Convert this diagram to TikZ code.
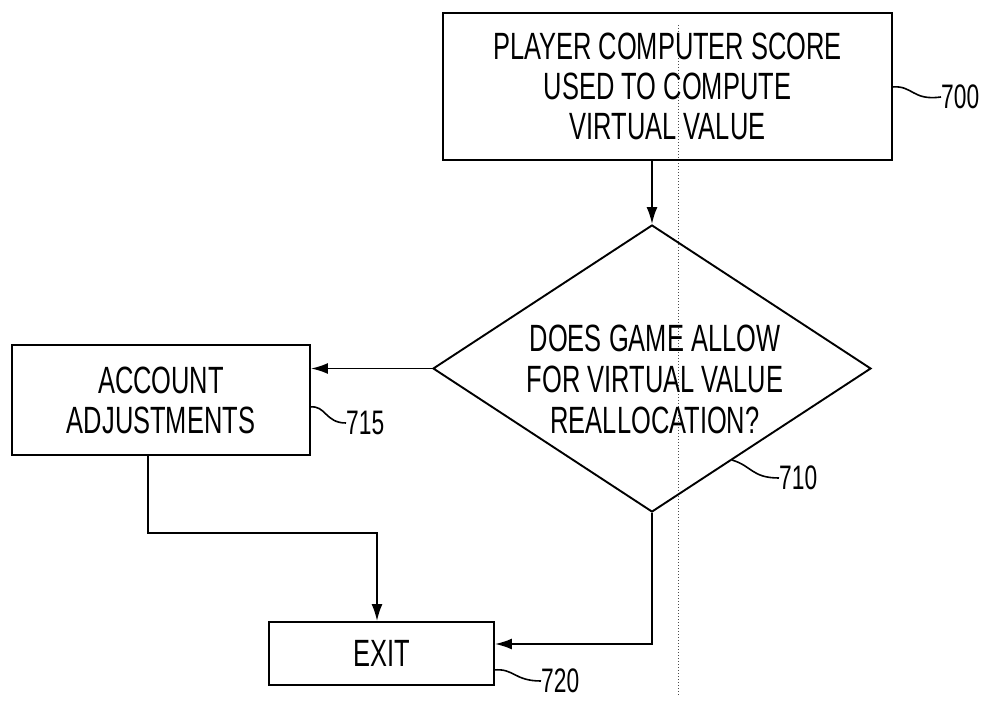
\documentclass[tikz,border=0pt]{standalone}
\usepackage{fontspec}
\setmainfont{Liberation Sans}[FakeStretch=0.67]
\usetikzlibrary{arrows.meta,shapes.geometric}
\tikzset{
  box/.style={draw, line width=1.9pt, rectangle, inner sep=0pt, align=center,
    font=\fontsize{38}{40}\selectfont},
  decision/.style={draw, line width=1.9pt, diamond, inner sep=0pt, aspect=1.526},
  txt/.style={inner sep=0pt, align=center, font=\fontsize{38}{41}\selectfont},
  ref/.style={inner sep=0pt, font=\fontsize{34}{34}\selectfont},
  flow/.style={line width=1.9pt, -{Latex[length=17pt,width=11pt]}},
  lead/.style={line width=1.6pt},
  scan/.style={line width=1pt, dotted, black!70}
}
\begin{document}
\begin{tikzpicture}[x=1pt,y=-1pt]
\useasboundingbox (0,0) rectangle (989,701);
\fill[white] (0,0) rectangle (989,701);

% scan artefact dotted line
\coordinate (s1) at (678,25);
\coordinate (s2) at (678,695);
\draw[scan] (s1) -- (s2);

\node[box, minimum width=449pt, minimum height=147pt] (b700) at (667.5,86.5)
  {PLAYER COMPUTER SCORE\\USED TO COMPUTE\\VIRTUAL VALUE};
\node[decision, minimum width=438pt, minimum height=287pt] (d710) at (652,368.5) {};
\node[txt] (t710) at (655,379) {DOES GAME ALLOW\\FOR VIRTUAL VALUE\\REALLOCATION?};
\node[box, minimum width=298pt, minimum height=110pt] (b715) at (161,400)
  {ACCOUNT\\ADJUSTMENTS};
\node[box, minimum width=225pt, minimum height=63pt] (b720) at (381.5,653.5) {EXIT};

% connectors
\draw[flow] (b700.south -| d710.north) -- (d710.north);
\draw[flow] (d710.west) -- (d710.west -| b715.east);
\coordinate (c1) at (148,533);
\coordinate (c2) at (377,533);
\draw[flow] (b715.south -| c1) -- (c1) -- (c2) -- (c2 |- b720.north);
\coordinate (c3) at (652,644);
\draw[flow] (d710.south) -- (c3) -- (c3 -| b720.east);

% reference labels
\node[ref, anchor=west] (r700) at (941,97) {700};
\coordinate (l700) at (892,87);
\draw[lead] (l700) .. controls (913,85) and (912,101) .. (r700.west);

\node[ref, anchor=west] (r710) at (779,478) {710};
\coordinate (l710) at (732,460);
\draw[lead] (l710) .. controls (752,466) and (752,478) .. (r710.west);

\node[ref, anchor=west] (r715) at (346,423) {715};
\coordinate (l715) at (310,407);
\draw[lead] (l715) .. controls (326,405) and (325,423) .. (r715.west);

\node[ref, anchor=west] (r720) at (541,681) {720};
\coordinate (l720) at (494,670);
\draw[lead] (l720) .. controls (514,668) and (514,681) .. (r720.west);
\end{tikzpicture}
\end{document}
